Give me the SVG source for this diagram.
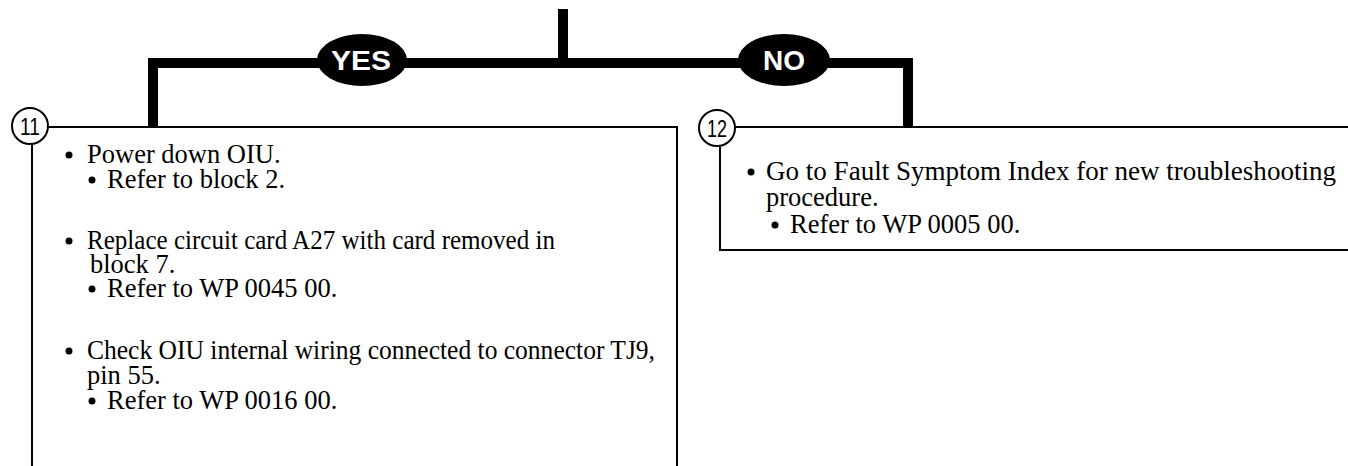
<svg xmlns="http://www.w3.org/2000/svg" width="1348" height="466" viewBox="0 0 1348 466">
<style>
.t{font-family:"Liberation Serif","Times New Roman",serif;font-size:26.5px;fill:#000}
.lbl{font-family:"Liberation Sans",Arial,sans-serif;font-size:28px;font-weight:bold;fill:#fff}
.num{font-family:"Liberation Sans",Arial,sans-serif;font-size:24px;fill:#000}
.thick{stroke:#000;stroke-width:10;fill:none}
.thin{stroke:#000;stroke-width:2;fill:none}
.circ{stroke:#000;stroke-width:2;fill:#fff}
.b{fill:#000}
</style>
<g id="connectors">
<path class="thick" d="M563 9 V63 M153 127 V63 H908 V127" stroke-linejoin="miter"/>
<ellipse cx="362" cy="60" rx="45" ry="26" fill="#000"/>
<text class="lbl" x="361" y="70" text-anchor="middle" textLength="60" lengthAdjust="spacingAndGlyphs">YES</text>
<ellipse cx="784" cy="60" rx="46" ry="26" fill="#000"/>
<text class="lbl" x="784" y="70" text-anchor="middle">NO</text>
</g>
<g id="node11">
<path class="thin" d="M32 144 V466 M48 127 H677 V466"/>
<circle class="circ" cx="30" cy="126" r="18"/>
<text class="num" x="30" y="135" text-anchor="middle" textLength="20" lengthAdjust="spacingAndGlyphs">11</text>
<circle class="b" cx="69" cy="155" r="3.5"/>
<text class="t" x="87" y="163">Power down OIU.</text>
<circle class="b" cx="92" cy="180" r="3.5"/>
<text class="t" x="107" y="188">Refer to block 2.</text>
<circle class="b" cx="69" cy="241" r="3.5"/>
<text class="t" x="87" y="249" textLength="468" lengthAdjust="spacingAndGlyphs">Replace circuit card A27 with card removed in</text>
<text class="t" x="90" y="273">block 7.</text>
<circle class="b" cx="92" cy="289" r="3.5"/>
<text class="t" x="107" y="297">Refer to WP 0045 00.</text>
<circle class="b" cx="69" cy="351" r="3.5"/>
<text class="t" x="87" y="359" textLength="568" lengthAdjust="spacingAndGlyphs">Check OIU internal wiring connected to connector TJ9,</text>
<text class="t" x="87" y="384">pin 55.</text>
<circle class="b" cx="92" cy="401" r="3.5"/>
<text class="t" x="107" y="409">Refer to WP 0016 00.</text>
</g>
<g id="node12">
<path class="thin" d="M720 147 V250 H1348 M735 127 H1348"/>
<circle class="circ" cx="717" cy="128" r="18"/>
<text class="num" x="717" y="137" text-anchor="middle" textLength="20" lengthAdjust="spacingAndGlyphs">12</text>
<circle class="b" cx="751" cy="172" r="3.5"/>
<text class="t" x="766" y="180" textLength="570" lengthAdjust="spacingAndGlyphs">Go to Fault Symptom Index for new troubleshooting</text>
<text class="t" x="766" y="206">procedure.</text>
<circle class="b" cx="775" cy="225" r="3.5"/>
<text class="t" x="790" y="233">Refer to WP 0005 00.</text>
</g>
</svg>
